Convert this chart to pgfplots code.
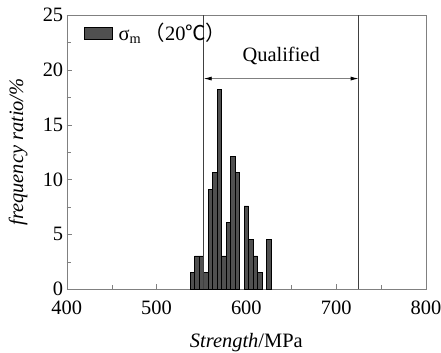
\documentclass[border=0pt]{standalone}
\usepackage{pgfplots}
\pgfplotsset{compat=1.18}
\usepackage{fontspec}
\setmainfont{Liberation Serif}
\newfontfamily\cjk{Noto Sans CJK SC}
\usetikzlibrary{arrows.meta}
\definecolor{barfill}{HTML}{505050}
\newcommand{\ff}{\rmfamily\fontsize{20.5}{24}\selectfont}
\begin{document}
\begin{tikzpicture}
\useasboundingbox (-66.7bp,-64bp) rectangle (374.3bp,289bp);
\begin{axis}[
 at={(0,0)}, anchor=south west,
 scale only axis, width=359.3bp, height=274bp,
 xmin=400, xmax=800, ymin=0, ymax=25,
 xtick={400,500,...,800}, ytick={0,5,...,25},
 minor xtick={450,550,650,750}, minor ytick={2.5,7.5,12.5,17.5,22.5},
 tick pos=left, tick align=inside,
 major tick length=5bp, minor tick length=4bp,
 axis line style={gray}, tick style={gray},
 /pgf/number format/assume math mode=true,
 ticklabel style={font=\ff},
 xticklabel style={yshift=-8bp},
 xlabel={\textit{Strength}/MPa}, ylabel={\textit{frequency ratio/\%}},
 label style={font=\ff},
 xlabel style={at={(axis description cs:0.5,-0.197)}, anchor=center},
 ylabel style={at={(axis description cs:-0.135,0.5)}, anchor=center},
 legend style={at={(axis description cs:0.04,0.985)}, anchor=north west, draw=none, fill=none, font=\ff},
 legend image code/.code={\draw[fill=barfill, draw=black, line width=0.4pt] (0bp,-6bp) rectangle (28bp,6bp);},
]
\addplot[ybar, bar width=5, fill=barfill, draw=black, line width=0.5pt] coordinates {
(540,1.52) (545,3.03) (550,3.03) (555,1.52) (560,9.09) (565,10.61) (570,18.18) (575,3.03)
(580,6.06) (585,12.12) (590,10.61) (600,7.58) (605,4.55) (610,3.03) (615,1.52) (625,4.55)
};
\addlegendentry{\hspace{4bp}σ\textsubscript{m}\,{\cjk （}20{\cjk ℃}{\cjk ）}}
\draw[black!75, line width=0.6pt] (axis cs:552.5,0) -- (axis cs:552.5,25);
\draw[black!75, line width=0.6pt] (axis cs:725,0) -- (axis cs:725,25);
\draw[gray, line width=0.8pt, {Latex[black,length=8bp,width=4bp]}-{Latex[black,length=8bp,width=4bp]}] (axis cs:552.5,19.2) -- (axis cs:725,19.2);
\node[font=\ff] at (axis cs:638.75,21.3) {Qualified};
\end{axis}
\end{tikzpicture}
\end{document}
